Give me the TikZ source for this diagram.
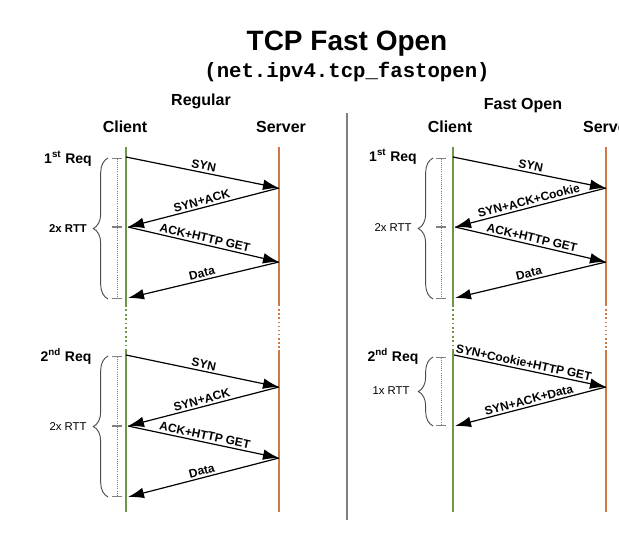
\documentclass[tikz,border=0pt]{standalone}
\usepackage{fontspec}
\setmainfont{Liberation Sans}
\newfontfamily\codefont{Liberation Mono}
\usetikzlibrary{arrows.meta}
\usetikzlibrary{decorations.pathreplacing}

\definecolor{clientgreen}{RGB}{112,150,72}
\definecolor{serverorange}{RGB}{206,122,72}

\begin{document}
\begin{tikzpicture}[x=0.75pt,y=-0.75pt,
  txt/.style={anchor=base, inner sep=0pt},
  head/.style={txt, font=\fontsize{12}{14}\selectfont\bfseries},
  req/.style={txt, font=\fontsize{10.5}{12}\selectfont\bfseries},
  rttlbl/.style={txt, font=\fontsize{8.5}{10}\selectfont},
  client/.style={draw=clientgreen, line width=1.3pt},
  server/.style={draw=serverorange, line width=1.1pt},
  gap/.style={dotted, line width=1.3pt},
  msg/.style={draw, line width=0.9pt, -{Latex[length=12pt,width=8pt]}},
  lbl/.style={font=\fontsize{9}{10}\selectfont\bfseries, sloped, above, inner sep=1.5pt},
  rtt/.style={draw=gray, densely dotted, line width=0.6pt, {Bar[width=7pt]}-{Bar[width=7pt]}},
  rttbrace/.style={draw=black!70, line width=0.7pt, decorate, decoration={brace, amplitude=11pt}}]
\useasboundingbox (0,0) rectangle (619,547);

\node[txt, font=\fontsize{21}{25}\selectfont\bfseries] (title) at (347,50) {TCP Fast Open};
\node[txt, font=\fontsize{15.5}{18}\selectfont\codefont\bfseries] (sysctl) at (347,77) {(net.ipv4.tcp\_fastopen)};
\draw[draw=gray, line width=1.5pt] (347,113) -- (347,520);

\node[head] (regular) at (201,105) {Regular};
\node[head] (rclient) at (125,132) {Client};
\node[head] (rserver) at (281,132) {Server};
\node[head] (fastopen) at (523,109) {Fast Open};
\node[head] (fclient) at (450,132) {Client};
\node[head] (fserver) at (608,132) {Server};

\coordinate (rc1) at (126,147);
\coordinate (rc2) at (126,305);
\coordinate (rc3) at (126,350);
\coordinate (rc4) at (126,512);
\coordinate (rs1) at (279,147);
\coordinate (rs2) at (279,305);
\coordinate (rs3) at (279,350);
\coordinate (rs4) at (279,512);
\draw[client] (rc1) -- (rc2);
\draw[client, gap] (rc2) -- (rc3);
\draw[client] (rc3) -- (rc4);
\draw[server] (rs1) -- (rs2);
\draw[server, gap] (rs2) -- (rs3);
\draw[server] (rs3) -- (rs4);

\coordinate (fc1) at (453,147);
\coordinate (fc2) at (453,305);
\coordinate (fc3) at (453,350);
\coordinate (fc4) at (453,512);
\coordinate (fs1) at (606,147);
\coordinate (fs2) at (606,305);
\coordinate (fs3) at (606,350);
\coordinate (fs4) at (606,512);
\draw[client] (fc1) -- (fc2);
\draw[client, gap] (fc2) -- (fc3);
\draw[client] (fc3) -- (fc4);
\draw[server] (fs1) -- (fs2);
\draw[server, gap] (fs2) -- (fs3);
\draw[server] (fs3) -- (fs4);

\coordinate (ra1) at (126,157);
\coordinate (ra2) at (279,188);
\coordinate (ra3) at (128,227);
\coordinate (ra4) at (279,262);
\coordinate (ra5) at (128,298);
\draw[msg] (ra1) -- node[lbl] {SYN} (ra2);
\draw[msg] (ra2) -- node[lbl] {SYN+ACK} (ra3);
\draw[msg] (ra3) -- node[lbl] {ACK+HTTP GET} (ra4);
\draw[msg] (ra4) -- node[lbl] {Data} (ra5);

\coordinate (rb1) at (126,355);
\coordinate (rb2) at (279,387);
\coordinate (rb3) at (128,426);
\coordinate (rb4) at (279,458);
\coordinate (rb5) at (128,497);
\draw[msg] (rb1) -- node[lbl] {SYN} (rb2);
\draw[msg] (rb2) -- node[lbl] {SYN+ACK} (rb3);
\draw[msg] (rb3) -- node[lbl] {ACK+HTTP GET} (rb4);
\draw[msg] (rb4) -- node[lbl] {Data} (rb5);

\coordinate (fa1) at (453,157);
\coordinate (fa2) at (606,188);
\coordinate (fa3) at (455,227);
\coordinate (fa4) at (606,262);
\coordinate (fa5) at (455,298);
\draw[msg] (fa1) -- node[lbl] {SYN} (fa2);
\draw[msg] (fa2) -- node[lbl] {SYN+ACK+Cookie} (fa3);
\draw[msg] (fa3) -- node[lbl] {ACK+HTTP GET} (fa4);
\draw[msg] (fa4) -- node[lbl] {Data} (fa5);

\coordinate (fb1) at (454,355);
\coordinate (fb2) at (606,387);
\coordinate (fb3) at (455,426);
\draw[msg] (fb1) -- node[lbl, pos=0.45] {SYN+Cookie+HTTP GET} (fb2);
\draw[msg] (fb2) -- node[lbl] {SYN+ACK+Data} (fb3);

\coordinate (rt1) at (117,158);
\coordinate (rt2) at (117,227);
\coordinate (rt3) at (117,299);
\draw[rtt] (rt1) -- (rt2);
\draw[rtt] (rt2) -- (rt3);
\draw[rttbrace] (108,299) -- (108,158);
\node[req] (req1) at (68,163) {1\textsuperscript{st} Req};
\node[rttlbl, font=\fontsize{8.5}{10}\selectfont\bfseries] (rtt1) at (68,232) {2x RTT};

\coordinate (rt4) at (117,356);
\coordinate (rt5) at (117,426);
\coordinate (rt6) at (117,497);
\draw[rtt] (rt4) -- (rt5);
\draw[rtt] (rt5) -- (rt6);
\draw[rttbrace] (108,497) -- (108,356);
\node[req] (req2) at (66,361) {2\textsuperscript{nd} Req};
\node[rttlbl] (rtt2) at (68,430) {2x RTT};

\coordinate (ft1) at (441,158);
\coordinate (ft2) at (441,227);
\coordinate (ft3) at (441,299);
\draw[rtt] (ft1) -- (ft2);
\draw[rtt] (ft2) -- (ft3);
\draw[rttbrace] (433,299) -- (433,158);
\node[req] (freq1) at (393,161) {1\textsuperscript{st} Req};
\node[rttlbl] (frtt1) at (393,231) {2x RTT};

\coordinate (ft4) at (441,357);
\coordinate (ft5) at (441,426);
\draw[rtt] (ft4) -- (ft5);
\draw[rttbrace] (433,426) -- (433,357);
\node[req] (freq2) at (393,361) {2\textsuperscript{nd} Req};
\node[rttlbl] (frtt2) at (391,394) {1x RTT};
\end{tikzpicture}
\end{document}
